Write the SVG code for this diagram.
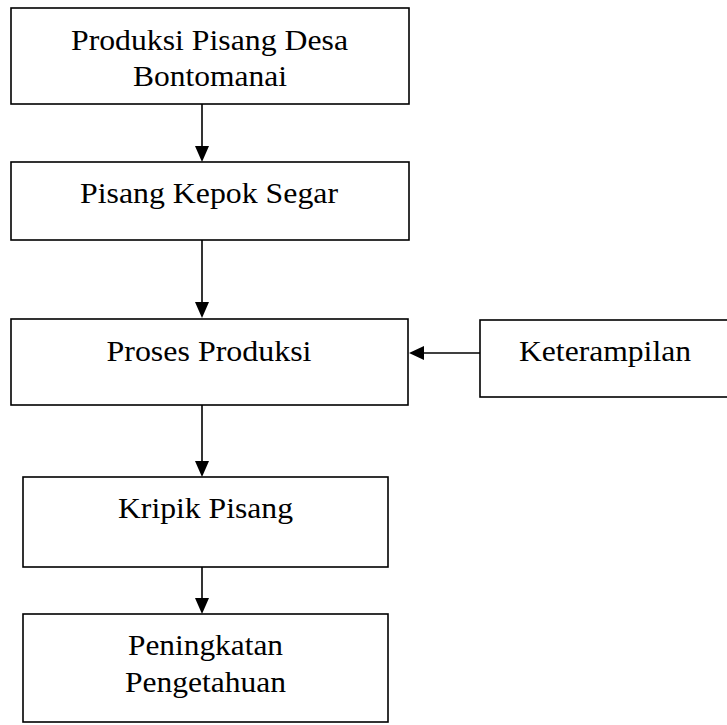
<svg xmlns="http://www.w3.org/2000/svg" width="727" height="725" viewBox="0 0 727 725">
<style>
.box{fill:#fff;stroke:#000;stroke-width:1.6}
.t{font-family:"Liberation Serif","Times New Roman",serif;font-size:29px;fill:#000;text-anchor:middle}
.c{stroke:#000;stroke-width:1.6;fill:none}
.h{fill:#000}
</style>
<rect width="727" height="725" fill="#fff"/>
<g id="connectors">
<line class="c" x1="202" y1="104" x2="202" y2="148"/>
<polygon class="h" points="195,146 209,146 202,162"/>
<line class="c" x1="202" y1="240" x2="202" y2="304"/>
<polygon class="h" points="195,302 209,302 202,318"/>
<line class="c" x1="480" y1="353" x2="422" y2="353"/>
<polygon class="h" points="424,346 424,360 409,353"/>
<line class="c" x1="202" y1="405" x2="202" y2="463"/>
<polygon class="h" points="195,461 209,461 202,477"/>
<line class="c" x1="202" y1="567" x2="202" y2="600"/>
<polygon class="h" points="195,598 209,598 202,614"/>
</g>
<g id="n1"><rect class="box" x="11" y="8" width="398" height="96"/>
<text class="t" x="209.5" y="50" textLength="277" lengthAdjust="spacingAndGlyphs">Produksi Pisang Desa</text>
<text class="t" x="210" y="86" textLength="154" lengthAdjust="spacingAndGlyphs">Bontomanai</text></g>
<g id="n2"><rect class="box" x="11" y="162" width="398" height="78"/>
<text class="t" x="209" y="203" textLength="258" lengthAdjust="spacingAndGlyphs">Pisang Kepok Segar</text></g>
<g id="n3"><rect class="box" x="11" y="319" width="397" height="86"/>
<text class="t" x="209" y="361" textLength="205" lengthAdjust="spacingAndGlyphs">Proses Produksi</text></g>
<g id="n4"><rect class="box" x="480" y="320" width="250" height="77"/>
<text class="t" x="605" y="361" textLength="172" lengthAdjust="spacingAndGlyphs">Keterampilan</text></g>
<g id="n5"><rect class="box" x="23" y="477" width="365" height="90"/>
<text class="t" x="205.5" y="518" textLength="175" lengthAdjust="spacingAndGlyphs">Kripik Pisang</text></g>
<g id="n6"><rect class="box" x="23" y="614" width="365" height="108"/>
<text class="t" x="205.5" y="655" textLength="155" lengthAdjust="spacingAndGlyphs">Peningkatan</text>
<text class="t" x="205.5" y="692" textLength="161" lengthAdjust="spacingAndGlyphs">Pengetahuan</text></g>
</svg>
